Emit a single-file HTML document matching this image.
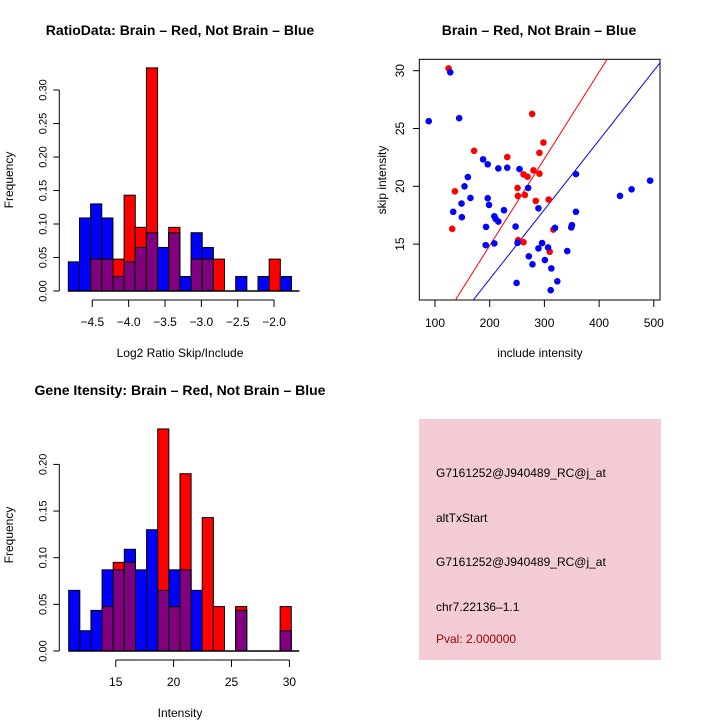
<!DOCTYPE html>
<html><head><meta charset="utf-8"><style>
body{margin:0;background:#fff;}
svg{display:block;font-family:"Liberation Sans",sans-serif;}
</style></head><body>
<svg id="c" width="720" height="720" viewBox="0 0 720 720" xmlns="http://www.w3.org/2000/svg">
<defs>
<pattern id="pk" width="2" height="2" patternUnits="userSpaceOnUse"><rect width="2" height="2" fill="#f0c4cf"/><rect width="1" height="1" fill="#f7d3da"/><rect x="1" y="1" width="1" height="1" fill="#f7d3da"/></pattern>
<clipPath id="sc"><rect x="419.3" y="59.3" width="240.7" height="240.7"/></clipPath>
</defs>
<text x="180" y="35" text-anchor="middle" font-size="14" font-weight="bold">RatioData: Brain – Red, Not Brain – Blue</text>
<text x="539" y="35" text-anchor="middle" font-size="14" font-weight="bold">Brain – Red, Not Brain – Blue</text>
<text x="180" y="395" text-anchor="middle" font-size="14" font-weight="bold">Gene Itensity: Brain – Red, Not Brain – Blue</text>
<text x="180" y="357" text-anchor="middle" font-size="12">Log2 Ratio Skip/Include</text>
<text x="540" y="357" text-anchor="middle" font-size="12">include intensity</text>
<text x="180" y="717" text-anchor="middle" font-size="12">Intensity</text>
<text transform="translate(13,180) rotate(-90)" text-anchor="middle" font-size="12">Frequency</text>
<text transform="translate(13,535) rotate(-90)" text-anchor="middle" font-size="12">Frequency</text>
<text transform="translate(386,180) rotate(-90)" text-anchor="middle" font-size="12">skip intensity</text>
<g id="h1"></g>
<g id="h2"></g>
<g id="sp"></g>
<rect x="419" y="419" width="242" height="241" fill="url(#pk)"/>
<g font-size="12">
<text x="436" y="477">G7161252@J940489_RC@j_at</text>
<text x="436" y="522">altTxStart</text>
<text x="436" y="566">G7161252@J940489_RC@j_at</text>
<text x="436" y="611">chr7.22136–1.1</text>
<text x="436" y="643" fill="#a00000">Pval: 2.000000</text>
</g>
</svg>
<script>
// Ratio histogram data
const ratioBinStart = -4.83, ratioBinWidth = 0.1535;
const ratioBlue = [0.0435,0.109,0.130,0.109,0.0217,0.0435,0.065,0.087,0.065,0.087,0.0217,0.087,0.065,0,0,0.0217,0,0.0217,0,0.0217];
const ratioRed  = [0,0,0.0476,0.0476,0.0476,0.143,0.095,0.333,0,0.095,0,0.0476,0.0476,0.0476,0,0,0,0,0.0476,0];
const ratioXTicks = [-4.5,-4.0,-3.5,-3.0,-2.5,-2.0];
const ratioXLabels = ["−4.5","−4.0","−3.5","−3.0","−2.5","−2.0"];
const ratioYTicks = [0,0.05,0.10,0.15,0.20,0.25,0.30];
const ratioYLabels = ["0.00","0.05","0.10","0.15","0.20","0.25","0.30"];
// Gene intensity histogram data
const geneBinStart = 10.94, geneBinWidth = 0.961;
const geneBlue = [0.065,0.0217,0.0435,0.087,0.087,0.109,0.087,0.130,0.065,0.087,0.087,0.065,0,0,0,0.0435,0,0,0,0.0217];
const geneRed  = [0,0,0,0.0476,0.095,0.095,0,0,0.238,0.0476,0.190,0,0.143,0.0476,0,0.0476,0,0,0,0.0476];
const geneXTicks = [15,20,25,30];
const geneYTicks = [0,0.05,0.10,0.15,0.20];
const geneYLabels = ["0.00","0.05","0.10","0.15","0.20"];
// Scatter data
const redX = [124.8,277.6,298.2,171.5,232.1,290.9,280,290.9,261.8,269.1,136.4,250.9,251.5,264.2,284.2,307.9,131.5,316.4,252.1,261.8,309.7];
const redY = [30.2,26.26,23.79,23.07,22.53,22.9,21.38,21.09,21.03,20.83,19.57,19.86,19.17,19.25,18.74,18.85,16.32,16.26,15.34,15.17,14.34];
const blueX = [127.9,88.5,144.2,187.9,196.4,215.8,232.1,254.5,357.6,493.3,459.4,438.2,160,153.9,164.8,148.5,196.4,198.8,270.3,289.1,133.3,149.1,226.1,208.5,210.9,215.8,357.6,193.3,247.3,350.3,349.1,319.4,192.7,208.5,250.9,295.8,289.1,306.7,341.8,271.5,300.8,278.2,312.7,249.1,323.6,311.5];
const blueY = [29.86,25.63,25.89,22.33,21.9,21.55,21.61,21.49,21.06,20.49,19.74,19.17,20.8,20.0,18.99,18.51,18.97,18.39,19.86,18.1,17.79,17.33,17.93,17.41,17.18,16.95,17.79,16.49,16.52,16.64,16.44,16.41,14.91,15.06,15.11,15.09,14.63,14.71,14.4,13.94,13.62,13.25,12.9,11.64,11.78,11.01];
const scatterXTicks = [100,200,300,400,500];
const scatterYTicks = [15,20,25,30];
const redLine = [-0.15,0.0751];
const blueLine = [-0.05,0.0601];

const NS="http://www.w3.org/2000/svg";
function mk(tag,attrs,parent){const e=document.createElementNS(NS,tag);for(const k in attrs)e.setAttribute(k,attrs[k]);parent.appendChild(e);return e;}

function hist(g,opt){
  const sx=v=>opt.x0+(v-opt.v0)*opt.kx, sy=v=>opt.base-v*opt.ky;
  const n=opt.blue.length;
  for(let i=0;i<n;i++){
    const a=opt.bs+i*opt.bw, b=a+opt.bw;
    const x=sx(a), w=sx(b)-sx(a);
    const bl=opt.blue[i], rd=opt.red[i];
    if(bl>0){const r=mk('rect',{x:x,y:sy(bl),width:w,height:bl*opt.ky,fill:'#0000ff',stroke:'#000','stroke-width':1},g);
      
      }
    if(rd>0){const r=mk('rect',{x:x,y:sy(rd),width:w,height:rd*opt.ky,fill:'#ff0000',stroke:'#000','stroke-width':1},g);
      
      }
    const m=Math.min(bl,rd);
    if(m>0){const r=mk('rect',{x:x,y:sy(m),width:w,height:m*opt.ky,fill:'#800080',stroke:'#000','stroke-width':1},g);
      
      }
  }
  const bl=mk('line',{x1:sx(opt.bs),x2:sx(opt.bs+n*opt.bw)+8,y1:opt.base,y2:opt.base,stroke:'#000','stroke-width':1.5},g);
  
  
  const ax=opt.axisY;
  const xa=mk('line',{x1:sx(opt.xt[0]),x2:sx(opt.xt[opt.xt.length-1]),y1:ax,y2:ax,stroke:'#000'},g);
  
  
  opt.xt.forEach((v,i)=>{mk('line',{x1:sx(v),x2:sx(v),y1:ax,y2:ax+7,stroke:'#000'},g);
    const t=mk('text',{x:sx(v),y:ax+26,'text-anchor':'middle','font-size':12},g);t.textContent=opt.xl[i];
    
    });
  const yx=59.3;
  const ya=mk('line',{x1:yx,x2:yx,y1:sy(opt.yt[0]),y2:sy(opt.yt[opt.yt.length-1]),stroke:'#000'},g);
  
  
  opt.yt.forEach((v,i)=>{mk('line',{x1:yx-6,x2:yx,y1:sy(v),y2:sy(v),stroke:'#000'},g);
    const t=mk('text',{transform:`translate(${yx-13},${sy(v)}) rotate(-90)`,'text-anchor':'middle','font-size':11},g);t.textContent=opt.yl[i];
    
    });
}
hist(document.getElementById('h1'),{x0:92.3,v0:-4.5,kx:72.7,base:291,ky:670,bs:ratioBinStart,bw:ratioBinWidth,blue:ratioBlue,red:ratioRed,xt:ratioXTicks,xl:ratioXLabels,yt:ratioYTicks,yl:ratioYLabels,axisY:300});
hist(document.getElementById('h2'),{x0:115.7,v0:15,kx:11.58,base:651,ky:933,bs:geneBinStart,bw:geneBinWidth,blue:geneBlue,red:geneRed,xt:geneXTicks,xl:geneXTicks.map(String),yt:geneYTicks,yl:geneYLabels,axisY:660});

(function(){
  const g=document.getElementById('sp');
  const sx=v=>435+(v-100)*0.547, sy=v=>70.7-(v-30)*11.56;
  const box=mk('rect',{x:419.3,y:59.3,width:240.7,height:240.7,fill:'none',stroke:'#000','stroke-width':1},g);
  
  
  scatterXTicks.forEach(v=>{mk('line',{x1:sx(v),x2:sx(v),y1:300,y2:307,stroke:'#000'},g);
    const t=mk('text',{x:sx(v),y:327,'text-anchor':'middle','font-size':12},g);t.textContent=String(v);
    
    });
  scatterYTicks.forEach(v=>{mk('line',{x1:413,x2:419.3,y1:sy(v),y2:sy(v),stroke:'#000'},g);
    const t=mk('text',{transform:`translate(404,${sy(v)}) rotate(-90)`,'text-anchor':'middle','font-size':12},g);t.textContent=String(v);
    
    });
  const cg=mk('g',{'clip-path':'url(#sc)'},g);
  [[redLine,'#ff0000','red-fit-line'],[blueLine,'#0000ff','blue-fit-line']].forEach(([l,c,n])=>{
    const x1=50,x2=560;
    const e=mk('line',{x1:sx(x1),x2:sx(x2),y1:sy(l[0]+l[1]*x1),y2:sy(l[0]+l[1]*x2),stroke:c,'stroke-width':1},cg);
    
    });
  redX.forEach((v,i)=>{const p=mk('circle',{cx:sx(v),cy:sy(redY[i]),r:3.3,fill:'#ff0000'},g);
    
    });
  blueX.forEach((v,i)=>{const p=mk('circle',{cx:sx(v),cy:sy(blueY[i]),r:3.3,fill:'#0000ff'},g);
    
    });
})();
</script>
</body></html>
